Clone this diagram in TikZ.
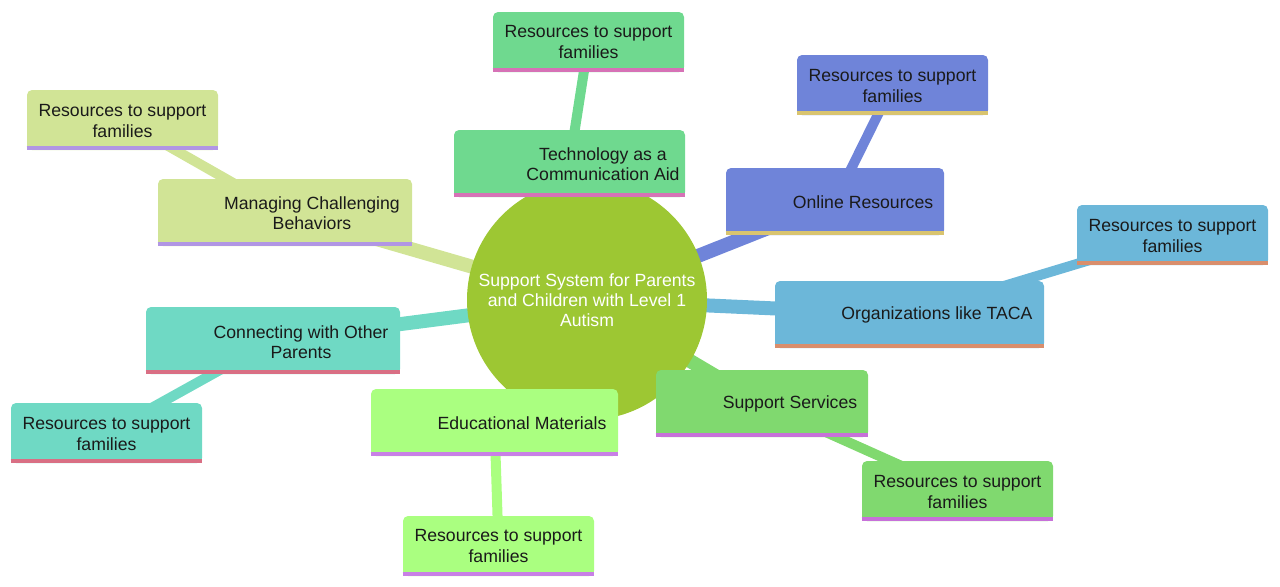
\documentclass[tikz,border=0pt]{standalone}
\usepackage{fontspec}
\setmainfont{Liberation Sans}
\usepackage{tikz}
\usetikzlibrary{positioning}
\definecolor{hub}      {HTML}{9DC733}
\definecolor{ink}      {HTML}{1A1A1A}
\definecolor{techfill} {HTML}{6FD98F}
\definecolor{techline} {HTML}{D672B6}
\definecolor{webfill}  {HTML}{6F84D9}
\definecolor{webline}  {HTML}{D9C46F}
\definecolor{orgfill}  {HTML}{6CB7D9}
\definecolor{orgline}  {HTML}{D98E6C}
\definecolor{servfill} {HTML}{80D96F}
\definecolor{servline} {HTML}{C771D9}
\definecolor{edufill}  {HTML}{AAFF80}
\definecolor{eduline}  {HTML}{C880E6}
\definecolor{peerfill} {HTML}{6FD9C4}
\definecolor{peerline} {HTML}{D96F84}
\definecolor{behfill}  {HTML}{D1E496}
\definecolor{behline}  {HTML}{B196E4}
\newcommand{\px}{0.02cm}
\newcommand{\mapfont}{\fontsize{10.05}{11.4}\selectfont}
\pgfdeclarelayer{background}
\pgfsetlayers{background,main}
% square off the lower corners and put the coloured rule under a box
\newcommand{\underrule}[3]{%
  \fill[#2] ([yshift=-1pt]#1.west) rectangle (#1.south east);
  \draw[#3, line width=4*\px] ([yshift=2*\px]#1.south west) -- ([yshift=2*\px]#1.south east);}

\begin{document}
\begin{tikzpicture}[x=0.02cm, y=-0.02cm,
  box/.style={rectangle, rounded corners=5*\px, inner sep=0pt, fill=#1},
  branch/.style={box=#1, minimum height=67*\px},
  leaf/.style={box=#1, minimum width=191*\px, minimum height=60*\px},
  txt/.style={align=center, text=ink, font=\mapfont, inner sep=0pt},
  trunk/.style={draw=#1, line width=14*\px},
  twig/.style={draw=#1, line width=10*\px}]
  \useasboundingbox (0,0) rectangle (1280,586);

  % centre
  \node[circle, fill=hub, minimum size=240*\px, inner sep=0pt] (root) at (587,300) {};
  \node[txt, text=white] (root-t) at (587,300) {Support System for Parents\\and Children with Level 1\\Autism};

  % technology
  \node[branch=techfill, minimum width=231*\px] (tech) at (569.5,163.5) {};
  \underrule{tech}{techfill}{techline}
  \node[txt] (tech-t) at (603,164) {Technology as a\\Communication Aid};
  \node[leaf=techfill] (tech-r) at (588.5,42) {};
  \underrule{tech-r}{techfill}{techline}
  \node[txt] (tech-rt) at (588.5,42) {Resources to support\\families};

  % online
  \node[branch=webfill, minimum width=218*\px] (web) at (835,201.5) {};
  \underrule{web}{webfill}{webline}
  \node[txt] (web-t) at (863,202) {Online Resources};
  \node[leaf=webfill] (web-r) at (892.5,85) {};
  \underrule{web-r}{webfill}{webline}
  \node[txt] (web-rt) at (892.5,86) {Resources to support\\families};

  % organizations
  \node[branch=orgfill, minimum width=269*\px] (org) at (909.5,314.5) {};
  \underrule{org}{orgfill}{orgline}
  \node[txt] (org-t) at (937,315) {Organizations like TACA};
  \node[leaf=orgfill] (org-r) at (1172.5,235) {};
  \underrule{org-r}{orgfill}{orgline}
  \node[txt] (org-rt) at (1172.5,236) {Resources to support\\families};

  % services
  \node[branch=servfill, minimum width=212*\px] (serv) at (762,403.5) {};
  \underrule{serv}{servfill}{servline}
  \node[txt] (serv-t) at (790,404) {Support Services};
  \node[leaf=servfill] (serv-r) at (957.5,491) {};
  \underrule{serv-r}{servfill}{servline}
  \node[txt] (serv-rt) at (957.5,492) {Resources to support\\families};

  % education
  \node[branch=edufill, minimum width=247*\px] (edu) at (494.5,422.5) {};
  \underrule{edu}{edufill}{eduline}
  \node[txt] (edu-t) at (522,423) {Educational Materials};
  \node[leaf=edufill] (edu-r) at (498.5,546) {};
  \underrule{edu-r}{edufill}{eduline}
  \node[txt] (edu-rt) at (498.5,546) {Resources to support\\families};

  % other parents
  \node[branch=peerfill, minimum width=254*\px] (peer) at (273,340.5) {};
  \underrule{peer}{peerfill}{peerline}
  \node[txt] (peer-t) at (301,342) {Connecting with Other\\Parents};
  \node[leaf=peerfill] (peer-r) at (106.5,433) {};
  \underrule{peer-r}{peerfill}{peerline}
  \node[txt] (peer-rt) at (106.5,434) {Resources to support\\families};

  % behaviours
  \node[branch=behfill, minimum width=254*\px] (beh) at (285,212.5) {};
  \underrule{beh}{behfill}{behline}
  \node[txt] (beh-t) at (312,213) {Managing Challenging\\Behaviors};
  \node[leaf=behfill] (beh-r) at (122.5,120) {};
  \underrule{beh-r}{behfill}{behline}
  \node[txt] (beh-rt) at (122.5,121) {Resources to support\\families};

  \begin{pgfonlayer}{background}
    \draw[trunk=techfill] (root.center) -- (tech.center);
    \draw[twig=techfill]  (tech.center) -- (tech-r.center);
    \draw[trunk=webfill]  (root.center) -- (web.center);
    \draw[twig=webfill]   (web.center) -- (web-r.center);
    \draw[trunk=orgfill]  (root.center) -- (org.center);
    \draw[twig=orgfill]   (org.center) -- (org-r.center);
    \draw[trunk=servfill] (root.center) -- (serv.center);
    \draw[twig=servfill]  (serv.center) -- (serv-r.center);
    \draw[trunk=edufill]  (root.center) -- (edu.center);
    \draw[twig=edufill]   (edu.center) -- (edu-r.center);
    \draw[trunk=peerfill] (root.center) -- (peer.center);
    \draw[twig=peerfill]  (peer.center) -- (peer-r.center);
    \draw[trunk=behfill]  (root.center) -- (beh.center);
    \draw[twig=behfill]   (beh.center) -- (beh-r.center);
  \end{pgfonlayer}
\end{tikzpicture}
\end{document}
